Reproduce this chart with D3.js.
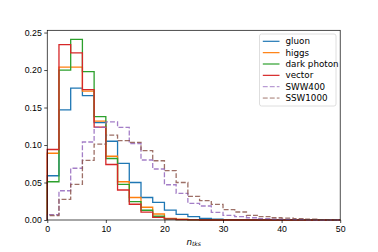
<!DOCTYPE html>
<html lang="en">
<head>
  <meta charset="UTF-8">
  <title>n_tks histogram</title>
  <style>
    body { margin: 0; background: #fff; }
    svg { display: block; font-family: "DejaVu Sans", sans-serif; }
    .axis text { font-size: 8.75px; fill: #000; }
    .axis path, .axis line { stroke: #000; stroke-width: 0.7px; }
    .hist { fill: none; stroke-width: 1.3px; }
    .legend text { font-size: 8.75px; }
  </style>
</head>
<body>
  <div id="chart"></div>
  <script src="https://cdn.jsdelivr.net/npm/d3@7"></script>
  <script>
    // bin edges (width 2) and per-bin fractions
    const binEdges = [0, 2, 4, 6, 8, 10, 12, 14, 16, 18, 20, 22, 24, 26, 28, 30, 32, 34, 36, 38, 40, 42, 44, 46, 48, 50];
    const gluon = [0.059, 0.147, 0.176, 0.166, 0.130, 0.105, 0.0756, 0.050, 0.030, 0.0236, 0.0133, 0.0076, 0.0044, 0.0022, 0.0012, 0.0006, 0.0003, 0, 0, 0, 0, 0, 0, 0, 0];
    const higgs = [0.089, 0.204, 0.204, 0.172, 0.132, 0.085, 0.051, 0.030, 0.017, 0.008, 0.0022, 0.001, 0.0004, 0, 0, 0, 0, 0, 0, 0, 0, 0, 0, 0, 0];
    const darkPhoton = [0.051, 0.200, 0.241, 0.198, 0.138, 0.082, 0.0476, 0.0244, 0.013, 0.005, 0.0015, 0.0006, 0.0002, 0, 0, 0, 0, 0, 0, 0, 0, 0, 0, 0, 0];
    const vector = [0.094, 0.234, 0.223, 0.174, 0.124, 0.074, 0.040, 0.021, 0.0105, 0.0036, 0.0015, 0.0006, 0.0002, 0, 0, 0, 0, 0, 0, 0, 0, 0, 0, 0, 0];
    const sww400 = [0.007, 0.039, 0.069, 0.104, 0.1236, 0.131, 0.1236, 0.102, 0.080, 0.068, 0.047, 0.0356, 0.0222, 0.0187, 0.0102, 0.0062, 0.0044, 0.003, 0.0018, 0.0013, 0.0009, 0.0005, 0.0002, 0, 0];
    const ssw1000 = [0.006, 0.0276, 0.0476, 0.0796, 0.1013, 0.1133, 0.1058, 0.1036, 0.0924, 0.079, 0.0658, 0.050, 0.0316, 0.0258, 0.0209, 0.0138, 0.0107, 0.0062, 0.0044, 0.003, 0.0025, 0.0018, 0.001, 0.0005, 0];
    const xTicks = [0, 10, 20, 30, 40, 50];
    const yTicks = [0, 0.05, 0.10, 0.15, 0.20, 0.25];

    const series = [
      { name: "gluon", values: gluon, color: "#1f77b4", dashed: false },
      { name: "higgs", values: higgs, color: "#ff7f0e", dashed: false },
      { name: "dark photon", values: darkPhoton, color: "#2ca02c", dashed: false },
      { name: "vector", values: vector, color: "#d62728", dashed: false },
      { name: "SWW400", values: sww400, color: "#9467bd", dashed: true },
      { name: "SSW1000", values: ssw1000, color: "#8c564b", dashed: true }
    ];

    const W = 378, H = 252;
    const margin = { top: 30.3, right: 37.8, bottom: 32, left: 47.25 };
    const width = W - margin.left - margin.right;
    const height = H - margin.top - margin.bottom;

    const svg = d3.select("#chart").append("svg")
      .attr("width", W)
      .attr("height", H);

    const g = svg.append("g")
      .attr("transform", `translate(${margin.left},${margin.top})`);

    const x = d3.scaleLinear().domain([0, 50]).range([0, width]);
    const y = d3.scaleLinear().domain([0, 0.253]).range([height, 0]);

    // step outline like histtype='step'
    const line = d3.line().x(d => x(d[0])).y(d => y(d[1]));
    function stepPoints(vals) {
      const pts = [[binEdges[0], 0]];
      vals.forEach((v, i) => {
        pts.push([binEdges[i], v]);
        pts.push([binEdges[i + 1], v]);
      });
      pts.push([binEdges[binEdges.length - 1], 0]);
      return pts;
    }

    const plot = g.append("g");
    series.forEach(s => {
      plot.append("path")
        .attr("class", "hist")
        .attr("d", line(stepPoints(s.values)))
        .attr("stroke", s.color)
        .attr("stroke-width", s.dashed ? 1.1 : null)
        .attr("stroke-opacity", s.dashed ? 0.85 : null)
        .attr("stroke-dasharray", s.dashed ? "4.9,2.1" : null);
    });

    // axes
    const xAxis = g.append("g")
      .attr("class", "axis")
      .attr("transform", `translate(0,${height})`)
      .call(d3.axisBottom(x).tickValues(xTicks).tickSize(3).tickPadding(3).tickFormat(d3.format("d")));
    const yAxis = g.append("g")
      .attr("class", "axis")
      .call(d3.axisLeft(y).tickValues(yTicks).tickSize(3).tickPadding(2.5).tickFormat(d3.format(".2f")));
    xAxis.select(".domain").remove();
    yAxis.select(".domain").remove();

    // frame
    g.append("rect")
      .attr("width", width)
      .attr("height", height)
      .attr("fill", "none")
      .attr("stroke", "#000")
      .attr("stroke-width", 0.7);

    // x label n_tks
    const xl = svg.append("text")
      .attr("x", margin.left + width / 2)
      .attr("y", 244.5)
      .attr("text-anchor", "middle")
      .style("font-size", "8.75px")
      .style("font-style", "italic");
    xl.append("tspan").text("n");
    xl.append("tspan").attr("dy", 1.8).style("font-size", "6.1px").text("tks");

    // legend
    const legend = svg.append("g").attr("class", "legend")
      .attr("transform", "translate(259.5,34)");
    legend.append("rect")
      .attr("width", 76.5)
      .attr("height", 72)
      .attr("rx", 2)
      .attr("fill", "#fff")
      .attr("fill-opacity", 0.8)
      .attr("stroke", "#d6d6d6")
      .attr("stroke-width", 0.8);

    series.forEach((s, i) => {
      const row = legend.append("g")
        .attr("transform", `translate(0,${7.3 + i * 11.35})`);
      row.append("line")
        .attr("x1", 3.3).attr("x2", 20)
        .attr("stroke", s.color)
        .attr("stroke-width", s.dashed ? 1.0 : 1.2)
        .attr("stroke-opacity", s.dashed ? 0.8 : 1)
        .attr("stroke-dasharray", s.dashed ? "4.9,2.1" : null);
      row.append("text")
        .attr("x", 26)
        .attr("dy", "0.35em")
        .text(s.name);
    });
  </script>
</body>
</html>
